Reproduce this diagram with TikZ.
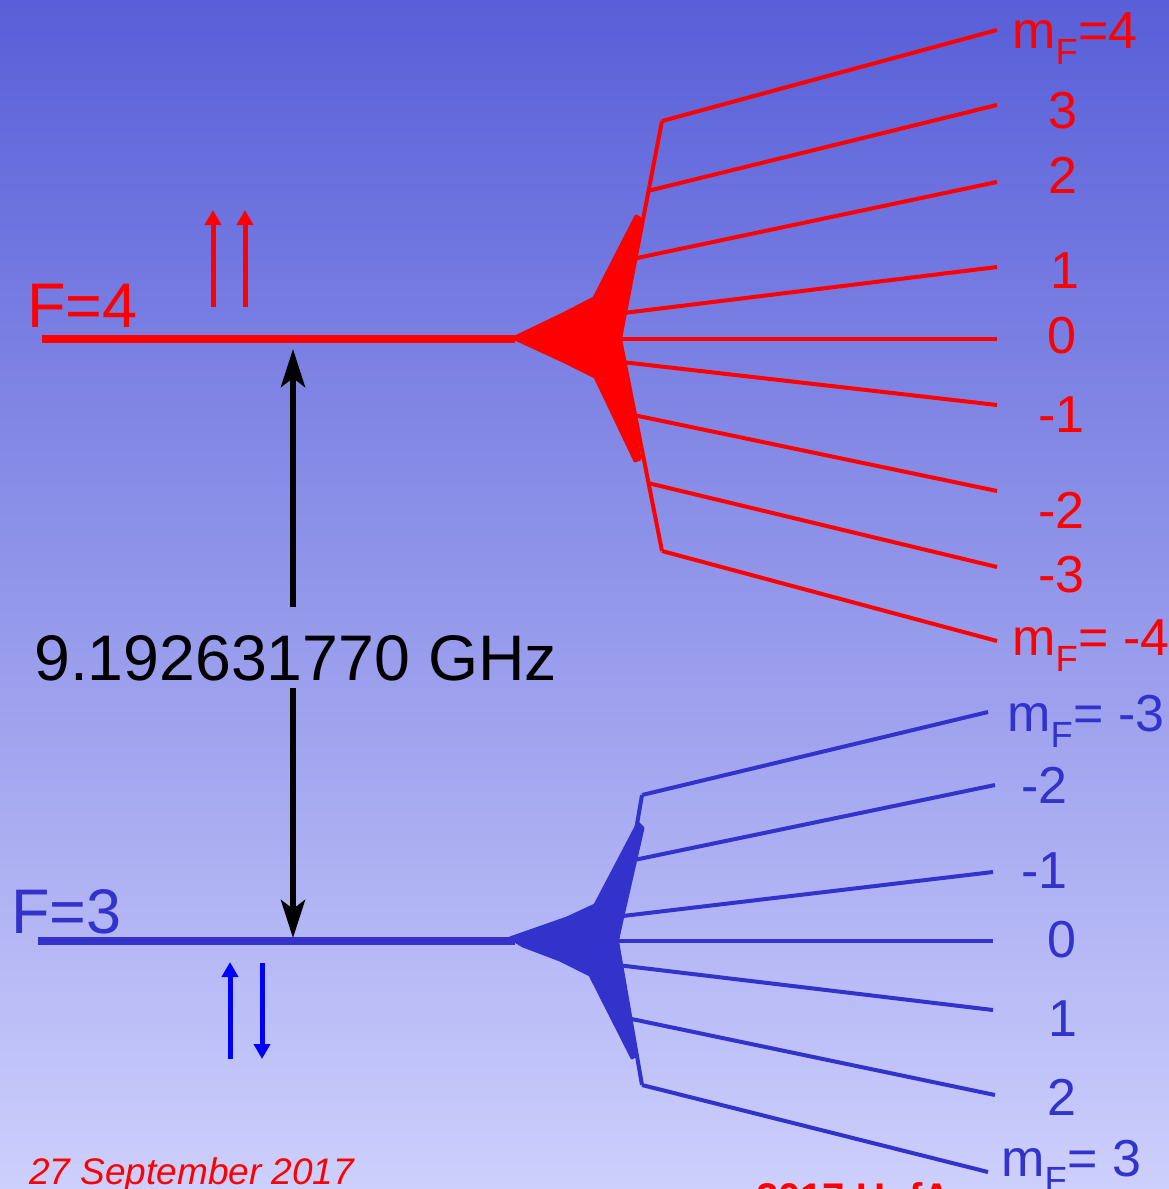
\documentclass[tikz,border=0pt]{standalone}
\usepackage{fontspec}
\setmainfont{Liberation Sans}
\usetikzlibrary{arrows.meta,calc}
\definecolor{rd}{RGB}{255,0,0}
\definecolor{bl}{RGB}{51,51,204}
\definecolor{spinblue}{RGB}{0,0,255}
\definecolor{bgtop}{RGB}{88,95,216}
\definecolor{bgmid}{RGB}{156,160,237}
\definecolor{bgbot}{RGB}{205,207,252}
\newcommand\lblsize{\fontsize{52}{60}\selectfont}
\newcommand\bigsize{\fontsize{63}{70}\selectfont}
\begin{document}
\begin{tikzpicture}[x=1pt,y=-1pt,
  level/.style={line width=8pt},
  sub/.style={line width=4pt},
  fan/.style={line width=3pt,line join=round},
  lbl/.style={anchor=base west,font=\lblsize,inner sep=0pt},
  spin/.style={line width=5pt,-{Triangle[length=15pt,width=16pt]}},
  gap/.style={line width=6pt,-{Stealth[length=38pt,width=24pt,inset=9pt]}}]
\useasboundingbox (0,0) rectangle (1169,1189);
\clip (0,0) rectangle (1169,1189);
\shade[top color=bgtop,middle color=bgmid,bottom color=bgbot] (0,0) rectangle (1169,1189);

% ---------- F=4 (red) ----------
\coordinate (r0) at (620,339);
\coordinate (rtop) at (662,121);
\coordinate (rbot) at (662,551);
\coordinate (r3) at ($(rtop)!0.32!(r0)$);
\coordinate (r2) at ($(rtop)!0.63!(r0)$);
\coordinate (r1) at ($(rtop)!0.88!(r0)$);
\coordinate (rm1) at ($(rbot)!0.89!(r0)$);
\coordinate (rm2) at ($(rbot)!0.64!(r0)$);
\coordinate (rm3) at ($(rbot)!0.32!(r0)$);
\coordinate (rstart) at (42,339);
\coordinate (rfan) at (515,339);
\draw[level,rd] (rstart) -- (rfan);
\filldraw[fan,rd] (513,338) -- (563,314) -- (594,298) -- (636,216) -- (641,219)
  -- (619,338) -- (640,459) -- (635,461) -- (595,377) -- (565,362) -- cycle;
\draw[sub,rd,line join=round] (rtop) -- (r0) -- (rbot);
\node[lbl,text=rd] (lr4) at (1012,48) {m\textsubscript{F}=4};
\node[lbl,text=rd] (lr3) at (1048,128) {3};
\node[lbl,text=rd] (lr2) at (1048,193) {2};
\node[lbl,text=rd] (lr1) at (1050,288) {1};
\node[lbl,text=rd] (lr0) at (1047,353) {0};
\node[lbl,text=rd] (lrm1) at (1038,432) {-1};
\node[lbl,text=rd] (lrm2) at (1038,528) {-2};
\node[lbl,text=rd] (lrm3) at (1038,592) {-3};
\node[lbl,text=rd] (lrm4) at (1012,655) {m\textsubscript{F}= -4};
\coordinate (er4) at (997,30);
\coordinate (er3) at (997,105);
\coordinate (er2) at (997,182);
\coordinate (er1) at (997,267);
\coordinate (er0) at (997,339);
\coordinate (erm1) at (997,405);
\coordinate (erm2) at (997,491);
\coordinate (erm3) at (997,567);
\coordinate (erm4) at (997,641);
\draw[sub,rd] (rtop) -- (er4);
\draw[sub,rd] (r3) -- (er3);
\draw[sub,rd] (r2) -- (er2);
\draw[sub,rd] (r1) -- (er1);
\draw[sub,rd] (r0) -- (er0);
\draw[sub,rd] (rm1) -- (erm1);
\draw[sub,rd] (rm2) -- (erm2);
\draw[sub,rd] (rm3) -- (erm3);
\draw[sub,rd] (rbot) -- (erm4);
\node[anchor=base west,font=\bigsize,text=rd,inner sep=0pt] (F4) at (27,327) {F=4};

% ---------- F=3 (blue) ----------
\coordinate (b0) at (617,941);
\coordinate (btop) at (642,795);
\coordinate (bbot) at (642,1085);
\coordinate (bm2) at ($(btop)!0.45!(b0)$);
\coordinate (bm1) at ($(btop)!0.83!(b0)$);
\coordinate (bp1) at ($(bbot)!0.83!(b0)$);
\coordinate (bp2) at ($(bbot)!0.46!(b0)$);
\coordinate (bstart) at (38,941);
\coordinate (bfan) at (515,941);
\draw[level,bl] (bstart) -- (bfan);
\filldraw[fan,bl] (510,938) -- (567,918) -- (595,905) -- (638,823) -- (643,828)
  -- (617,942) -- (636,1055) -- (632,1058) -- (590,975) -- (560,960) -- (523,946) -- cycle;
\draw[sub,bl,line join=round] (btop) -- (b0) -- (bbot);
\coordinate (eb3m) at (988,712);
\coordinate (eb2m) at (995,785);
\coordinate (eb1m) at (993,872);
\coordinate (eb0) at (993,941);
\coordinate (eb1) at (993,1010);
\coordinate (eb2) at (995,1095);
\coordinate (eb3) at (988,1172);
\draw[sub,bl] (btop) -- (eb3m);
\draw[sub,bl] (bm2) -- (eb2m);
\draw[sub,bl] (bm1) -- (eb1m);
\draw[sub,bl] (b0) -- (eb0);
\draw[sub,bl] (bp1) -- (eb1);
\draw[sub,bl] (bp2) -- (eb2);
\draw[sub,bl] (bbot) -- (eb3);
\node[lbl,text=bl] (lbm3) at (1007,731) {m\textsubscript{F}= -3};
\node[lbl,text=bl] (lbm2) at (1021,803) {-2};
\node[lbl,text=bl] (lbm1) at (1021,888) {-1};
\node[lbl,text=bl] (lb0) at (1047,957) {0};
\node[lbl,text=bl] (lb1) at (1048,1036) {1};
\node[lbl,text=bl] (lb2) at (1047,1115) {2};
\node[lbl,text=bl] (lb3) at (1001,1176) {m\textsubscript{F}= 3};
\node[anchor=base west,font=\bigsize,text=bl,inner sep=0pt] (F3) at (11,933) {F=3};

% ---------- hyperfine splitting ----------
\node[anchor=base west,font=\fontsize{64.4}{70}\selectfont,inner sep=0pt] (freq) at (34,680) {9.192631770 GHz};
\coordinate (gtop) at (293,349);
\coordinate (gbot) at (293,938);
\coordinate (gup) at (293,607);
\coordinate (gdn) at (293,688);
\draw[gap] (gup) -- (gtop);
\draw[gap] (gdn) -- (gbot);

% ---------- spins ----------
\coordinate (s1a) at (213,307); \coordinate (s1b) at (213,210);
\coordinate (s2a) at (245,307); \coordinate (s2b) at (245,210);
\draw[spin,rd] (s1a) -- (s1b);
\draw[spin,rd] (s2a) -- (s2b);
\coordinate (s3a) at (230,1059); \coordinate (s3b) at (230,962);
\coordinate (s4a) at (262,963); \coordinate (s4b) at (262,1059);
\draw[spin,spinblue] (s3a) -- (s3b);
\draw[spin,spinblue] (s4a) -- (s4b);

% ---------- footer ----------
\node[anchor=base west,font=\fontsize{37}{40}\selectfont\itshape,text=rd,inner sep=0pt] (date) at (29,1184) {27 September 2017};
\node[anchor=base west,font=\fontsize{40}{44}\selectfont\bfseries,text=rd,inner sep=0pt] (uofa) at (756,1211) {2017 UofA};
\end{tikzpicture}
\end{document}
